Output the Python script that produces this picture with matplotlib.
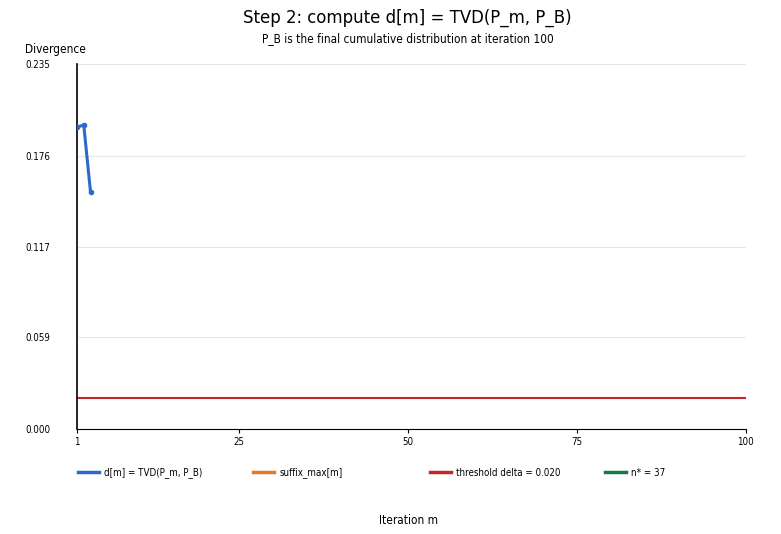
import matplotlib
matplotlib.use("Agg")
import matplotlib.pyplot as plt
import numpy as np

iterations = [1, 2, 3]
d_values = [0.1945, 0.1957, 0.1526]
threshold = 0.020
n_star = 37
x_ticks = [1, 25, 50, 75, 100]
y_ticks = [0.0, 0.059, 0.117, 0.176, 0.235]

plt.rcParams["font.family"] = ["DejaVu Sans"]
plt.rcParams["font.stretch"] = "condensed"

fig = plt.figure(figsize=(7.81, 5.34), dpi=100)
ax = fig.add_axes([0.0986, 0.1966, 0.8564, 0.6834])

l1, = ax.plot(iterations, d_values, color="#2a6ac8", lw=2.2, marker="o", ms=3,
              label="d[m] = TVD(P_m, P_B)", zorder=3)
l2, = ax.plot([], [], color="#e07b28", lw=2.5, label="suffix_max[m]")
l3 = ax.axhline(threshold, color="#c0282d", lw=1.5, label="threshold delta = 0.020")
l4, = ax.plot([], [], color="#1a7a45", lw=2.5, label=f"n* = {n_star}")

ax.set_xlim(1, 100)
ax.set_ylim(0, 0.235)
ax.set_xticks(x_ticks)
ax.set_xticklabels([str(t) for t in x_ticks], fontsize=7)
ax.set_yticks(y_ticks)
ax.set_yticklabels([f"{t:.3f}" for t in y_ticks], fontsize=7)
ax.tick_params(axis="y", length=0, pad=19)
ax.tick_params(axis="x", length=3, pad=3)
ax.grid(axis="y", color="#e6e6e6", lw=0.8)
ax.set_axisbelow(True)
for s in ["top", "right"]:
    ax.spines[s].set_visible(False)
ax.spines["left"].set_linewidth(1.2)
ax.spines["bottom"].set_linewidth(0.8)

fig.text(0.522, 0.966, "Step 2: compute d[m] = TVD(P_m, P_B)", ha="center", va="center", fontsize=13.2)
fig.text(0.522, 0.927, "P_B is the final cumulative distribution at iteration 100", ha="center", va="center", fontsize=8.5)
fig.text(0.071, 0.908, "Divergence", ha="center", va="center", fontsize=8.5)
fig.text(0.523, 0.026, "Iteration m", ha="center", va="center", fontsize=8.5)

handles = [l1, l2, l3, l4]
x_px = [78, 253, 430, 605]
for h, xp in zip(handles, x_px):
    proxy = plt.Line2D([], [], color=h.get_color(), lw=2.5)
    fig.legend(handles=[proxy], labels=[h.get_label()], loc="center left",
               bbox_to_anchor=(xp / 781, 0.115), frameon=False, fontsize=7,
               handlelength=2.2, handletextpad=0.5, borderaxespad=0, borderpad=0)

fig.savefig("out.png", dpi=100)
